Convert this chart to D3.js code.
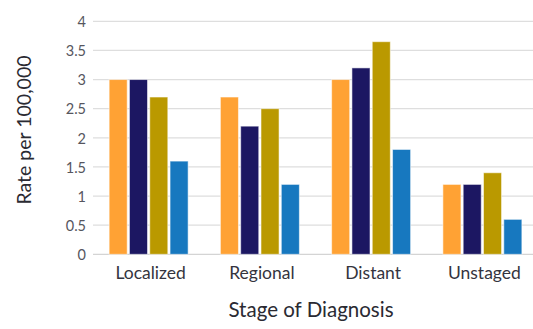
<!DOCTYPE html>
<html>
<head>
<meta charset="utf-8">
<script src="https://cdn.jsdelivr.net/npm/d3@7"></script>
<style>
  html, body { margin: 0; padding: 0; background: #fff; }
  svg { display: block; }
  text { font-family: Lato, "Noto Sans", sans-serif; }
</style>
</head>
<body>
<svg id="chart" width="533" height="329"></svg>
<script>
// Stages of diagnosis on the x axis
const stages = ["Localized", "Regional", "Distant", "Unstaged"];
// Four series per stage, drawn left to right within each group
const seriesKeys = ["s1", "s2", "s3", "s4"];
const seriesColors = ["#FFA234", "#1C1762", "#BA9900", "#1778BF"];
const series1 = [3.0, 2.7, 3.0, 1.2];
const series2 = [3.0, 2.2, 3.2, 1.2];
const series3 = [2.7, 2.5, 3.65, 1.4];
const series4 = [1.6, 1.2, 1.8, 0.6];
const yTicks = [0, 0.5, 1, 1.5, 2, 2.5, 3, 3.5, 4];
const yTickLabels = ["0", "0.5", "1", "1.5", "2", "2.5", "3", "3.5", "4"];

const allSeries = [series1, series2, series3, series4];
const rows = stages.map((s, i) => ({
  stage: s,
  values: seriesKeys.map((k, j) => ({ key: k, value: allSeries[j][i], color: seriesColors[j] }))
}));

const svg = d3.select("#chart");
const plotLeft = 93, plotRight = 538, plotTop = 21.3, plotBottom = 254.3;

const x0 = d3.scaleBand().domain(stages).range([plotLeft, plotRight])
  .paddingInner(0.29).paddingOuter(0.145);
const x1 = d3.scaleBand().domain(seriesKeys).range([0, x0.bandwidth()])
  .paddingInner(0.11).paddingOuter(0);
const y = d3.scaleLinear().domain([0, 4]).range([plotBottom, plotTop]);

// Horizontal gridlines
svg.append("g")
  .selectAll("line")
  .data(yTicks)
  .join("line")
  .attr("x1", plotLeft)
  .attr("x2", 533)
  .attr("y1", d => y(d))
  .attr("y2", d => y(d))
  .attr("stroke", d => d === 0 ? "#d4d4d4" : "#dedede")
  .attr("stroke-width", 1.2);

// Y axis tick labels
const yAxis = d3.axisLeft(y).tickValues(yTicks)
  .tickFormat((d, i) => yTickLabels[i]).tickSize(0).tickPadding(0);
svg.append("g")
  .attr("transform", `translate(${plotLeft - 7},0)`)
  .call(yAxis)
  .call(g => g.select(".domain").remove())
  .call(g => g.selectAll("text")
    .attr("fill", "#56565e")
    .attr("font-size", 14.5)
    .attr("dy", "0.36em"));

// Bars
const groups = svg.append("g")
  .selectAll("g")
  .data(rows)
  .join("g")
  .attr("transform", d => `translate(${x0(d.stage)},0)`);

groups.selectAll("rect")
  .data(d => d.values)
  .join("rect")
  .attr("x", d => x1(d.key))
  .attr("width", x1.bandwidth())
  .attr("y", d => y(d.value))
  .attr("height", d => plotBottom - y(d.value))
  .attr("fill", d => d.color)
  .attr("stroke", "#ffffff")
  .attr("stroke-opacity", 0.55)
  .attr("stroke-width", 1);

// X axis category labels
const xAxis = d3.axisBottom(x0).tickSize(0).tickPadding(0);
svg.append("g")
  .attr("transform", `translate(0,${plotBottom})`)
  .call(xAxis)
  .call(g => g.select(".domain").remove())
  .call(g => g.selectAll("text")
    .attr("fill", "#34343e")
    .attr("font-size", 17.5)
    .attr("dy", null)
    .attr("x", 2)
    .attr("y", 24.5));

// Axis titles
svg.append("text")
  .attr("x", 311)
  .attr("y", 317)
  .attr("text-anchor", "middle")
  .attr("fill", "#2a2a32")
  .attr("font-size", 20.5)
  .text("Stage of Diagnosis");

svg.append("text")
  .attr("transform", "translate(31,130) rotate(-90)")
  .attr("text-anchor", "middle")
  .attr("fill", "#2a2a32")
  .attr("font-size", 19.5)
  .text("Rate per 100,000");
</script>
</body>
</html>
